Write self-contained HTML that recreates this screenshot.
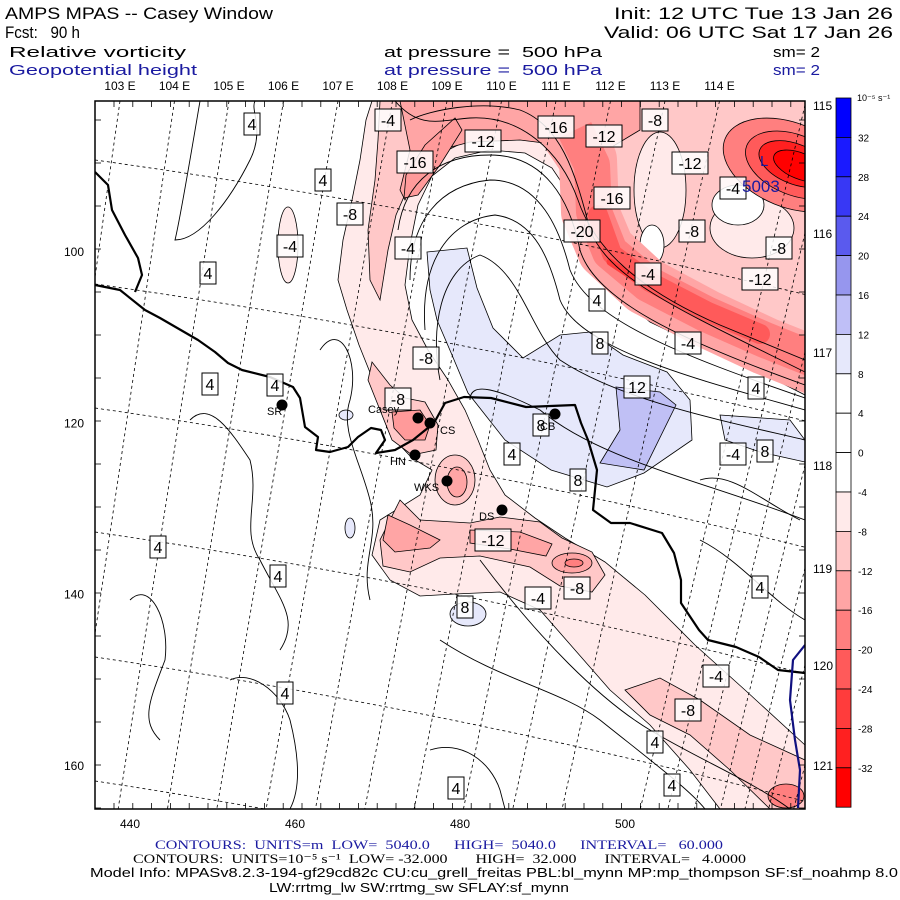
<!DOCTYPE html>
<html><head><meta charset="utf-8"><style>
html,body{margin:0;padding:0;width:900px;height:900px;overflow:hidden;background:#fff;}
svg{display:block;font-family:"Liberation Sans",sans-serif;overflow:hidden;position:absolute;left:0;top:0;}
</style></head><body>
<svg id="chart" width="900" height="900" viewBox="0 0 900 900" xmlns="http://www.w3.org/2000/svg">
<rect width="900" height="900" fill="#fff"/>
<g font-size="17" fill="#000">
<text x="5" y="19" textLength="268" lengthAdjust="spacingAndGlyphs">AMPS MPAS -- Casey Window</text>
<text x="614" y="19" textLength="279" lengthAdjust="spacingAndGlyphs">Init: 12 UTC Tue 13 Jan 26</text>
<text x="5" y="38" textLength="75" lengthAdjust="spacingAndGlyphs">Fcst:&#160;&#160;&#160;90 h</text>
<text x="604" y="38" textLength="289" lengthAdjust="spacingAndGlyphs">Valid: 06 UTC Sat 17 Jan 26</text>
<text x="9" y="57" font-size="15" textLength="177" lengthAdjust="spacingAndGlyphs">Relative vorticity</text>
<text x="384" y="57" font-size="15" textLength="218" lengthAdjust="spacingAndGlyphs">at pressure =&#160;&#160;500 hPa</text>
<text x="773" y="57" font-size="15" textLength="47" lengthAdjust="spacingAndGlyphs">sm= 2</text>
<g fill="#1a1aa0" font-size="15">
<text x="9" y="75" textLength="188" lengthAdjust="spacingAndGlyphs">Geopotential height</text>
<text x="384" y="75" textLength="218" lengthAdjust="spacingAndGlyphs">at pressure =&#160;&#160;500 hPa</text>
<text x="773" y="75" textLength="47" lengthAdjust="spacingAndGlyphs">sm= 2</text>
</g>
</g>
<defs><clipPath id="plotclip"><rect x="95" y="101" width="710" height="708"/></clipPath></defs>
<g clip-path="url(#plotclip)" stroke="#000" stroke-width="0.8">
<g id="fills">
<path fill="#ffeaea" d="M372,101 L805,101 L805,395 L760,372 L700,346 L650,322 L620,297 L598,262 L582,228 L568,192 L552,168 L525,153 L490,150 L455,158 L432,176 L418,205 L410,245 L405,285 L412,320 L428,350 L448,380 L465,410 L478,440 L490,470 L505,495 L535,518 L565,538 L605,562 L645,595 L695,645 L745,690 L805,745 L805,809 L720,809 L690,770 L650,725 L610,690 L575,650 L540,610 L500,592 L455,594 L420,596 L390,580 L372,555 L380,520 L420,495 L432,470 L412,458 L395,440 L383,410 L371,375 L359,345 L347,310 L338,280 L343,240 L352,200 L360,160 L366,120 Z"/>
<path fill="#ffc8c8" d="M380,101 L805,101 L805,388 L770,370 L712,343 L664,316 L632,288 L612,255 L600,222 L590,188 L577,160 L548,143 L505,138 L462,143 L432,158 L410,183 L396,215 L388,250 L380,300 L370,280 L368,230 L375,180 L378,140 Z"/>
<ellipse cx="660" cy="190" rx="26" ry="58" fill="#ffeaea"/>
<ellipse cx="752" cy="228" rx="42" ry="30" fill="#ffeaea"/>
<ellipse cx="738" cy="205" rx="26" ry="20" fill="#fff"/>
<ellipse cx="652" cy="245" rx="12" ry="20" fill="#fff"/>
<path fill="#ffa5a5" d="M400,101 L640,101 L640,130 L610,148 L595,170 L560,145 L520,140 L470,142 L440,150 L420,170 L405,200 L400,190 L410,150 Z"/>
<path fill="none" stroke="#ffa5a5" stroke-width="58" stroke-linejoin="round" d="M560,118 L588,160 L590,212 L606,250 L645,286 L705,318 L765,346 L830,372"/>
<path fill="none" stroke="#ff7f7f" stroke-width="36" stroke-linejoin="round" d="M575,130 L592,165 L594,212 L610,252 L648,284 L706,314 L765,340 L830,366"/>
<path fill="none" stroke="#ff5a5a" stroke-width="20" stroke-linejoin="round" stroke-linecap="round" d="M598,215 L612,254 L650,282 L708,312 L760,334"/>
<path fill="none" stroke="#ff3c3c" stroke-width="7" stroke-linecap="round" d="M610,262 L640,282"/>
<path fill="#ff9a9a" d="M455,118 L462,130 L440,165 L418,195 L404,198 L406,175 L425,145 Z"/>
<ellipse cx="790" cy="165" rx="70" ry="42" transform="rotate(22 790 165)" fill="#ff7f7f"/>
<ellipse cx="795" cy="165" rx="52" ry="30" transform="rotate(22 795 165)" fill="#ff5a5a"/>
<ellipse cx="795" cy="164" rx="38" ry="20" transform="rotate(22 795 164)" fill="#ff2020"/>
<ellipse cx="800" cy="166" rx="28" ry="13" transform="rotate(22 800 166)" fill="#ff0000"/>
<path fill="#ffc8c8" d="M372,362 L390,385 L405,398 L425,402 L438,425 L436,450 L412,455 L392,440 L380,410 L368,380 Z"/>
<path fill="#ff9a9a" d="M392,412 L420,410 L430,425 L425,440 L405,440 L394,428 Z"/>
<ellipse cx="455" cy="480" rx="20" ry="25" fill="#ffc8c8"/>
<ellipse cx="457" cy="482" rx="10" ry="15" fill="#ffa5a5"/>
<path fill="#ffc8c8" d="M400,500 L420,520 L470,523 L500,517 L540,522 L562,538 L592,552 L605,575 L592,592 L560,586 L530,567 L480,556 L440,558 L410,572 L383,566 L380,540 Z"/>
<path fill="#ffa5a5" d="M388,515 L410,525 L440,540 L430,548 L395,552 L383,540 Z"/>
<path fill="#ffa5a5" d="M470,530 L520,532 L552,544 L546,556 L510,549 L470,543 Z"/>
<ellipse cx="572" cy="563" rx="20" ry="10" fill="#ffa5a5"/>
<ellipse cx="574" cy="563" rx="9" ry="4" fill="#ff7f7f"/>
<path fill="#ffc8c8" d="M625,690 L660,678 L700,700 L750,735 L805,760 L805,809 L770,809 L730,770 L690,735 L650,715 Z"/>
<ellipse cx="786" cy="796" rx="18" ry="12" fill="#ff7f7f"/>
<path fill="#e6e8fb" d="M427,252 L467,248 L477,288 L493,328 L523,358 L560,335 L590,332 L623,355 L667,372 L690,400 L692,440 L644,473 L607,487 L551,470 L505,440 L468,393 L452,355 L437,320 L430,290 Z"/>
<path fill="#c0c0f5" d="M616,387 L660,392 L676,405 L644,470 L600,463 L620,430 Z"/>
<path fill="#e6e8fb" d="M720,415 L790,420 L805,440 L805,462 L760,452 L725,440 Z"/>
<ellipse cx="468" cy="614" rx="18" ry="12" fill="#e6e8fb"/>
<ellipse cx="350" cy="528" rx="5" ry="10" fill="#e6e8fb"/>
<ellipse cx="346" cy="415" rx="7" ry="5" fill="#e6e8fb"/>
<ellipse cx="288" cy="245" rx="10" ry="38" fill="#ffeaea"/>
</g>
<g id="grid" fill="none" stroke="#000" stroke-width="0.8" stroke-dasharray="3,3"></g>
<g fill="none" stroke="#000" stroke-width="0.9">
<path d="M395,101 C420,130 440,120 470,118 C520,115 560,150 578,200 C595,250 640,290 720,325 L805,360"/>
<path d="M410,120 C430,110 480,100 520,110 C560,125 575,170 590,230 C610,280 680,310 805,372"/>
<path d="M398,230 C405,180 440,155 490,155 C545,155 570,200 580,250 C595,300 680,340 805,385"/>
<path d="M410,280 C410,220 440,185 490,180 C540,180 560,230 570,270 C590,320 680,355 805,398"/>
<path d="M425,330 C420,260 450,220 495,215 C535,220 550,260 560,300 C580,350 700,380 805,410"/>
<path d="M440,380 C430,330 440,270 480,255 C520,270 530,330 560,360 C620,400 720,420 805,440"/>
<path d="M470,400 C470,380 500,390 540,410 C600,460 700,480 805,520"/>
<path d="M480,560 C540,640 600,700 650,730 C700,760 750,780 790,809"/>
<path d="M440,640 C500,680 560,690 600,720 C650,760 690,790 705,809"/>
<path d="M200,101 C190,160 180,220 175,240 C200,240 230,200 250,160 C265,130 250,110 255,101"/>
<path d="M190,420 C210,400 230,430 250,460 C260,500 240,530 260,560 C280,600 300,620 280,650"/>
<path d="M130,600 C150,580 170,620 165,660 C150,700 140,720 160,740"/>
<path d="M230,680 C250,670 280,690 290,720 C300,760 300,790 290,809"/>
<path d="M320,350 C340,320 360,360 350,400 C340,430 360,460 370,500 C380,540 360,560 370,600"/>
<path d="M430,750 C460,740 490,760 500,790 L505,809"/>
<path d="M700,480 C730,470 760,500 800,520"/>
<path d="M700,540 C740,560 770,600 805,620"/>
</g>
<g fill="none" stroke="#000" stroke-width="2.2" stroke-linejoin="round">
<path d="M95,172 L108,185 L112,210 L125,235 L138,258 L142,275 L135,292"/>
<path d="M95,285 L120,290 L145,310 L160,318 L198,340 L215,352 L228,363 L242,370 L270,377 L293,387 L300,398 L305,427 L318,437 L316,450 L330,452 L348,447 L358,437 L371,428 L381,430 L385,440 L376,453 L395,450 L413,440 L434,423 L445,403 L464,397 L491,398 L526,407 L575,405 L581,423 L588,440 L597,470 L593,510 L611,523 L630,523 L662,533 L674,553 L681,580 L681,603 L699,630 L708,640 L736,647 L759,657 L778,670 L796,672 L805,673"/>
<path d="M805,645 L793,660 L790,700 L795,740 L800,770 L798,808" stroke="#101080"/>
</g>
</g>
<rect x="95" y="101" width="710" height="708" fill="none" stroke="#000" stroke-width="1.5"/>
<g id="axes" font-size="12" fill="#000"></g>
<g id="labels" font-size="16"></g>
<g id="stations"></g>
<text x="760" y="166" fill="#1a1aa0" font-size="15">L</text>
<text x="742" y="192" fill="#1a1aa0" font-size="17">5003</text>
<g id="colorbar" font-size="10"></g>
<g>
<text x="155" y="849" fill="#1a1aa0" font-family="Liberation Serif,serif" font-size="13" textLength="568" lengthAdjust="spacingAndGlyphs">CONTOURS:&#160;&#160;UNITS=m&#160;&#160;LOW=&#160;&#160;5040.0&#160;&#160;&#160;&#160;&#160;&#160;HIGH=&#160;&#160;5040.0&#160;&#160;&#160;&#160;&#160;&#160;INTERVAL=&#160;&#160;&#160;60.000</text>
<text x="133" y="863" font-family="Liberation Serif,serif" font-size="13" textLength="613" lengthAdjust="spacingAndGlyphs">CONTOURS:&#160;&#160;UNITS=10⁻⁵ s⁻¹&#160;&#160;LOW= -32.000&#160;&#160;&#160;&#160;&#160;&#160;&#160;HIGH=&#160;&#160;32.000&#160;&#160;&#160;&#160;&#160;&#160;&#160;INTERVAL=&#160;&#160;&#160;4.0000</text>
<text x="90" y="877" font-size="13" textLength="808" lengthAdjust="spacingAndGlyphs">Model Info: MPASv8.2.3-194-gf29cd82c CU:cu_grell_freitas PBL:bl_mynn MP:mp_thompson SF:sf_noahmp 8.0</text>
<text x="269" y="892" font-size="13" textLength="300" lengthAdjust="spacingAndGlyphs">LW:rrtmg_lw SW:rrtmg_sw SFLAY:sf_mynn</text>
</g>
</svg>
<script>
const NS='http://www.w3.org/2000/svg';
const cbLevels=[32,28,24,20,16,12,8,4,0,-4,-8,-12,-16,-20,-24,-28,-32];
const cbColors=['#0000ff','#1a1aff','#3838f5','#5a5aee','#9696ee','#bfbff7','#e6e8fb','#ffffff','#ffffff','#ffffff','#ffeaea','#ffc8c8','#ffa5a5','#ff7f7f','#ff5a5a','#ff3c3c','#ff2020','#ff0000'];
const xTicks=[440,460,480,500];
const yTicks=[100,120,140,160];
const topLons=['103 E','104 E','105 E','106 E','107 E','108 E','109 E','110 E','111 E','112 E','113 E','114 E'];
const rightLons=['115 E','116 E','117 E','118 E','119 E','120 E','121 E'];
const boxLabels=[['-4',388,120],['-12',483,141],['-16',556,127],['-12',604,136],['-8',655,120],['-16',415,162],['-12',690,163],['-4',733,188],['4',252,124],['4',323,180],['-8',350,214],['-16',612,198],['-20',582,231],['-8',692,231],['-4',408,248],['-4',290,246],['-8',779,248],['4',208,273],['-4',648,274],['-12',760,279],['4',597,300],['8',600,343],['-4',688,343],['-8',426,358],['4',210,384],['4',275,385],['12',637,387],['4',756,388],['-8',398,399],['8',541,425],['4',512,454],['-4',733,454],['8',765,451],['8',578,480],['-12',493,540],['4',158,547],['4',278,576],['-4',538,598],['-8',577,588],['4',760,587],['8',465,607],['4',285,693],['-4',716,676],['-8',688,710],['4',655,742],['4',672,785],['4',456,788]];
const stationNames=['SR','Casey','CS','HN','WKS','DS','CB'];
const stationX=[282,418,430,415,447,502,555];
const stationY=[405,418,423,455,481,510,414];
const labelDx=[-15,-50,10,-25,-33,-23,-15];
const labelDy=[10,-5,11,10,10,10,16];

const xs=v=>130+(v-440)*165/20;
const ys=v=>252+(v-100)*171.3/20;
const cbTop=98,cbBin=39.4,cbX=836,cbW=15;
const cbY=v=>cbTop+cbBin+(32-v)/4*cbBin;

function mk(tag,attrs,parent){const e=document.createElementNS(NS,tag);for(const k in attrs)e.setAttribute(k,attrs[k]);parent.appendChild(e);return e;}

const grid=document.getElementById('grid');
const P=[-939,7560];
const topX=topLons.map((_,i)=>120+54.5*i);
const rightY=[105,233,352,465,568,665,765];
const pts=topX.map(x=>[x,101]).concat(rightY.map(y=>[805,y]));
pts.forEach(p=>{
  const k=(p[0]-P[0])/(p[1]-P[1]);
  // segment from the anchor point down to the bottom of the plot, clamped to the frame
  let yb=809,xb=p[0]+k*(yb-p[1]);
  if(xb<95){xb=95;yb=p[1]+(95-p[0])/k;}
  const l=mk('line',{x1:p[0],y1:p[1],x2:xb,y2:yb},grid);
  
  
});
[160,284,408,532,657,781].forEach(y=>{
  const r=Math.hypot(95-P[0],y-P[1]);
  let d='';
  for(let x=95;x<=805;x+=10){
    const yy=P[1]-Math.sqrt(r*r-(x-P[0])*(x-P[0]));
    const yc=Math.min(809,Math.max(101,yy));
    d+=(d?' L':'M')+x+','+yc.toFixed(1);
  }
  const c=mk('path',{d:d},grid);
  
  
});

const ax=document.getElementById('axes');
xTicks.forEach(v=>{
  const t=mk('text',{x:xs(v),y:828,'text-anchor':'middle'},ax);t.textContent=v;
  
  
});
yTicks.forEach(v=>{
  const t=mk('text',{x:84,y:ys(v)+4,'text-anchor':'end'},ax);t.textContent=v;
  
  
});
for(let x=95+19;x<805;x+=18.8){
  const a=mk('line',{x1:x,y1:101,x2:x,y2:107,stroke:'#000','stroke-width':0.8},ax);
  
  
  const b=mk('line',{x1:x,y1:809,x2:x,y2:803,stroke:'#000','stroke-width':0.8},ax);
  
  
}
for(let y=101+19;y<809;y+=43){
  const a=mk('line',{x1:95,y1:y,x2:101,y2:y,stroke:'#000','stroke-width':0.8},ax);
  
  
  const b=mk('line',{x1:805,y1:y,x2:799,y2:y,stroke:'#000','stroke-width':0.8},ax);
  
  
}
topLons.forEach((s,i)=>{
  const t=mk('text',{x:topX[i],y:90,'text-anchor':'middle'},ax);t.textContent=s;
  
  
});
rightLons.forEach((s,i)=>{
  const t=mk('text',{x:813,y:rightY[i]+5},ax);t.textContent=s;
  
  
});

const lb=document.getElementById('labels');
boxLabels.forEach(b=>{
  const w=b[0].length*10+6;
  const r=mk('rect',{x:b[1]-w/2,y:b[2]-11,width:w,height:22,fill:'#fff','fill-opacity':0.85,stroke:'#000','stroke-width':1},lb);
  
  
  const t=mk('text',{x:b[1],y:b[2]+6,'text-anchor':'middle'},lb);t.textContent=b[0];
  
  
});

const st=document.getElementById('stations');
stationNames.forEach((n,i)=>{
  const c=mk('circle',{cx:stationX[i],cy:stationY[i],r:5.5,fill:'#000'},st);
  
  
  const t=mk('text',{x:stationX[i]+labelDx[i],y:stationY[i]+labelDy[i],'font-size':11},st);t.textContent=n;
  
  
});

const cb=document.getElementById('colorbar');
cbColors.forEach((c,i)=>{
  const r=mk('rect',{x:cbX,y:cbTop+i*cbBin,width:cbW,height:cbBin,fill:c,stroke:'#000','stroke-width':0.8},cb);
  
  
});
cbLevels.forEach(v=>{
  const t=mk('text',{x:858,y:cbY(v)+4},cb);t.textContent=v;
  
  
});
const u=mk('text',{x:857,y:101,'font-size':9},cb);u.textContent='10⁻⁵ s⁻¹';


</script>
</body></html>
